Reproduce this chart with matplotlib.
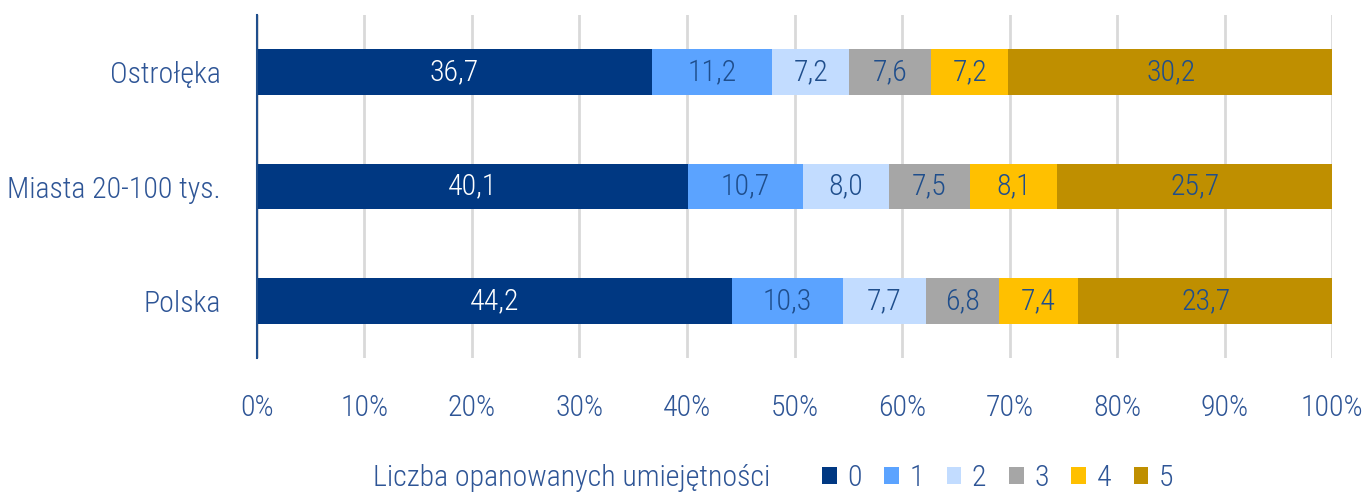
import matplotlib
matplotlib.use("Agg")
import matplotlib.pyplot as plt
from matplotlib import font_manager as fm
from matplotlib.patches import Patch

names = {f.name for f in fm.fontManager.ttflist}
fam = "Roboto Condensed" if "Roboto Condensed" in names else "Roboto"
plt.rcParams['font.family'] = [fam, 'DejaVu Sans']

categories = ["Polska", "Miasta 20-100 tys.", "Ostrołęka"]
series_labels = ["0", "1", "2", "3", "4", "5"]
values = {
    "0": [44.2, 40.1, 36.7],
    "1": [10.3, 10.7, 11.2],
    "2": [7.7, 8.0, 7.2],
    "3": [6.8, 7.5, 7.6],
    "4": [7.4, 8.1, 7.2],
    "5": [23.7, 25.7, 30.2],
}
colors = ["#003882", "#5BA3FF", "#C2DCFF", "#A6A6A6", "#FFC000", "#BF8F00"]
label_colors = ["white", "#1F4E8C", "#1F4E8C", "#1F4E8C", "#1F4E8C", "#1F4E8C"]
xticks = [0, 10, 20, 30, 40, 50, 60, 70, 80, 90, 100]
text_color = "#2E5596"
FS = 21.5

fig = plt.figure(figsize=(13.67, 4.94), dpi=100)
ax = fig.add_axes([0.188, 0.2753, 0.9744 - 0.188, 0.9696 - 0.2753])

y = list(range(len(categories)))
left = [0.0] * len(categories)
for s, c, lc in zip(series_labels, colors, label_colors):
    vals = values[s]
    ax.barh(y, vals, left=left, height=0.4, color=c, zorder=3)
    for yi, l, v in zip(y, left, vals):
        ax.text(l + v / 2, yi, f"{v:.1f}".replace(".", ","), ha="center", va="center",
                color=lc, fontsize=FS, fontweight="light", zorder=4)
    left = [l + v for l, v in zip(left, vals)]

ax.set_xlim(0, 100)
ax.set_ylim(-0.5, 2.5)
ax.set_xticks(xticks)
ax.set_xticklabels([f"{t}%" for t in xticks])
ax.set_yticks(y)
ax.set_yticklabels(categories)
ax.tick_params(axis="both", length=0, colors=text_color, labelsize=FS)
ax.tick_params(axis="x", pad=26)
ax.tick_params(axis="y", pad=26)
for lab in ax.get_xticklabels() + ax.get_yticklabels():
    lab.set_fontweight("light")
ax.grid(axis="x", color="#D9D9D9", linewidth=2, zorder=0)
for sp in ["top", "right", "bottom"]:
    ax.spines[sp].set_visible(False)
ax.spines["left"].set_color("#1F4E8C")
ax.spines["left"].set_linewidth(1.5)
ax.spines["left"].set_zorder(5)

fig.text(373 / 1367, 1 - 478 / 494, "Liczba opanowanych umiejętności", color=text_color,
         fontsize=FS, fontweight="light", va="center", ha="left")
handles = [Patch(facecolor=c, edgecolor="none") for c in colors]
leg = fig.legend(handles, series_labels, loc="center left",
                 bbox_to_anchor=(822 / 1367, 1 - 478 / 494), ncol=6, frameon=False,
                 fontsize=FS, handlelength=0.5, handleheight=0.5, handletextpad=0.35,
                 columnspacing=0.75, borderaxespad=0, borderpad=0)
for t in leg.get_texts():
    t.set_color(text_color)
    t.set_fontweight("light")

fig.savefig("out.png", dpi=100)
